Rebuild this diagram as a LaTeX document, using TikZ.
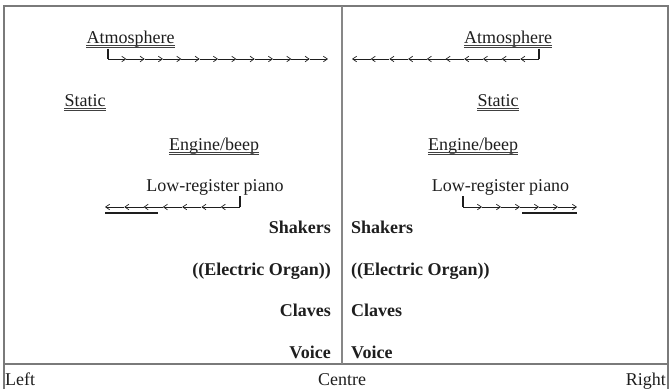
\documentclass[tikz,border=0pt]{standalone}
\usepackage{fontspec}
\setmainfont{Liberation Serif}
\usetikzlibrary{arrows.meta}
\definecolor{ink}{HTML}{1E1E1E}
\definecolor{framec}{HTML}{7A7A7A}
\tikzset{
 lbl/.style={inner sep=0pt, text=ink, font=\fontsize{18}{21}\selectfont},
 blbl/.style={inner sep=0pt, text=ink, font=\fontsize{18}{21}\selectfont\bfseries},
 flow/.style={draw=ink, line width=0.7pt, -{Straight Barb[length=4pt,width=5.5pt]}},
 tickline/.style={draw=ink, line width=1.1pt},
 ul/.style={draw=ink!85, line width=0.8pt},
 frameline/.style={draw=framec, line width=1.4pt},
 midline/.style={draw=framec!90, line width=2pt},
}
\newcommand{\dblul}[1]{%
 \draw[ul] ([yshift=-2.3pt]#1.base west) -- ([yshift=-2.3pt]#1.base east);
 \draw[ul] ([yshift=-4.3pt]#1.base west) -- ([yshift=-4.3pt]#1.base east);}
\begin{document}
\begin{tikzpicture}[x=1pt,y=-1pt]
\useasboundingbox (0,0) rectangle (669,389);
% frame
\draw[frameline] (4,389) -- (4,6) -- (668,6) -- (668,389);
\draw[frameline] (4,364) -- (668,364);
\draw[midline] (342,6) -- (342,364);
% left column
\node[lbl, anchor=base] (atmL) at (130.5,43) {Atmosphere};
\dblul{atmL}
\node[lbl, anchor=base] (statL) at (85,106) {Static};
\dblul{statL}
\node[lbl, anchor=base] (engL) at (214,150) {Engine/beep};
\dblul{engL}
\node[lbl, anchor=base] (pianoL) at (215,191) {Low-register piano};
% right column
\node[lbl, anchor=base] (atmR) at (508,43) {Atmosphere};
\dblul{atmR}
\node[lbl, anchor=base] (statR) at (498,106) {Static};
\dblul{statR}
\node[lbl, anchor=base] (engR) at (473,150) {Engine/beep};
\dblul{engR}
\node[lbl, anchor=base] (pianoR) at (500.5,191) {Low-register piano};
% atmosphere flows
\coordinate (atmLt) at (108,48.5);
\coordinate (atmLc) at (108,59);
\draw[tickline] (atmLt) -- (atmLc);
\foreach \i in {1,...,12}
 \draw[flow] ([xshift={220/12*(\i-1)}]atmLc) -- ([xshift={220/12*\i}]atmLc);
\coordinate (atmRt) at (539,48.5);
\coordinate (atmRc) at (539,59);
\draw[tickline] (atmRt) -- (atmRc);
\foreach \i in {1,...,10}
 \draw[flow] ([xshift={-18.7*(\i-1)}]atmRc) -- ([xshift={-18.7*\i}]atmRc);
% piano flows
\coordinate (pnLt) at (240,196);
\coordinate (pnLc) at (240,207);
\draw[tickline] (pnLt) -- (pnLc);
\foreach \i in {1,...,7}
 \draw[flow] ([xshift={-135/7*(\i-1)}]pnLc) -- ([xshift={-135/7*\i}]pnLc);
\coordinate (pnLu1) at (105,213);
\coordinate (pnLu2) at (158,213);
\draw[ink, line width=1.1pt] (pnLu1) -- (pnLu2);
\coordinate (pnRt) at (463,196);
\coordinate (pnRc) at (463,207);
\draw[tickline] (pnRt) -- (pnRc);
\foreach \i in {1,...,6}
 \draw[flow] ([xshift={19*(\i-1)}]pnRc) -- ([xshift={19*\i}]pnRc);
\coordinate (pnRu1) at (522,213);
\coordinate (pnRu2) at (577,213);
\draw[ink, line width=1.1pt] (pnRu1) -- (pnRu2);
% bold instruments
\node[blbl, anchor=base east] (shL) at (331,233.5) {Shakers};
\node[blbl, anchor=base east] (orL) at (331,275) {((Electric Organ))};
\node[blbl, anchor=base east] (clL) at (331,316.5) {Claves};
\node[blbl, anchor=base east] (voL) at (331,358) {Voice};
\node[blbl, anchor=base west] (shR) at (351,233.5) {Shakers};
\node[blbl, anchor=base west] (orR) at (351,275) {((Electric Organ))};
\node[blbl, anchor=base west] (clR) at (351,316.5) {Claves};
\node[blbl, anchor=base west] (voR) at (351,358) {Voice};
% bottom labels
\node[lbl, anchor=base west] (left) at (5,385) {Left};
\node[lbl, anchor=base] (centre) at (342,385) {Centre};
\node[lbl, anchor=base east] (right) at (666,385) {Right};
\end{tikzpicture}
\end{document}
